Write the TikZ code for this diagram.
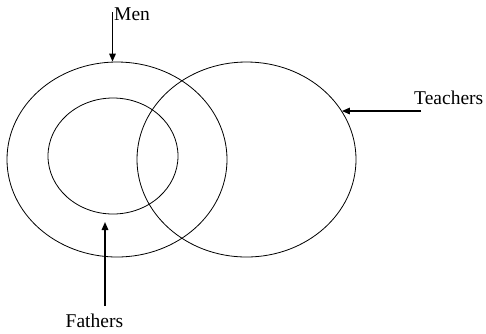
\documentclass[tikz,border=0pt]{standalone}
\usepackage{fontspec}
\setmainfont{Liberation Serif}
\usetikzlibrary{shapes.geometric,arrows.meta}
\tikzset{
	set/.style={draw,ellipse,line width=0.8pt,inner sep=0pt},
	lab/.style={inner sep=0pt,anchor=base west,font=\fontsize{19.5}{20}\selectfont},
	pointer/.style={line width=1.5pt,-{Triangle[length=8pt,width=6.5pt]}}
}
\begin{document}
\begin{tikzpicture}[x=1pt,y=-1pt,line join=round]
	\useasboundingbox (0,0) rectangle (486,333);
	% sets
	\node[set,minimum width=220pt,minimum height=195pt] (men) at (117,159.5) {};
	\node[set,minimum width=130pt,minimum height=116pt] (fathers) at (113,156) {};
	\node[set,minimum width=219pt,minimum height=195pt] (teachers) at (246.5,159.5) {};
	% labels
	\node[lab] (menlab) at (114,20) {Men};
	\node[lab] (teachlab) at (414,104.5) {Teachers};
	\node[lab] (fathlab) at (65.5,327) {Fathers};
	\coordinate (mentail) at (112.5,12);
	\coordinate (teachtail) at (421,111);
	\coordinate (fathtail) at (105,306);
	\coordinate (fathtip) at (105,222);
	% pointers
	\draw[pointer] (mentail) -- (mentail |- men.north);
	\draw[pointer] (teachtail) -- (teachtail -| teachers.27);
	\draw[pointer] (fathtail) -- (fathtip);
\end{tikzpicture}
\end{document}
